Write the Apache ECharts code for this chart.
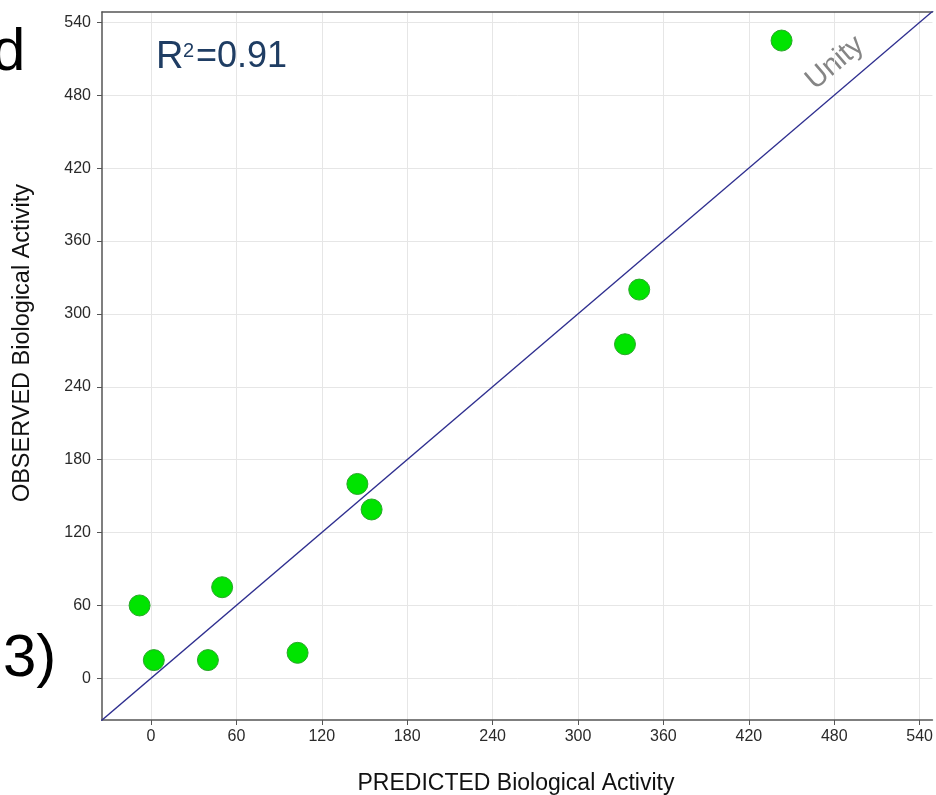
<!DOCTYPE html>
<html><head><meta charset="utf-8">
<script src="https://cdn.jsdelivr.net/npm/echarts@6/dist/echarts.min.js"></script>
<style>html,body{margin:0;padding:0;background:#fff}#c{width:936px;height:795px}</style>
</head><body><div id="c"></div>
<script>
const predicted = [-8, 2, 40, 50, 103, 145, 155, 333, 343, 443];
const observed  = [60, 15, 15, 75, 21, 160, 139, 275, 320, 525];
const tickValues = [0, 60, 120, 180, 240, 300, 360, 420, 480, 540];
const unityLine = [[-40, -40], [600, 600]];
const r2Text = '0.91';

const points = predicted.map((p, i) => [p, observed[i]]);
const chart = echarts.init(document.getElementById('c'), null, {renderer: 'canvas'});
const labelFont = {fontFamily: 'Liberation Sans', fontSize: 16, color: '#2a2a2a'};
function axisCommon() {
  return {
    type: 'value',
    axisLine: {show: true, onZero: false, lineStyle: {color: '#555', width: 1.5}},
    axisTick: {show: true, length: 5, lineStyle: {color: '#555'}, customValues: tickValues},
    axisLabel: Object.assign({customValues: tickValues}, labelFont),
    splitLine: {show: true, lineStyle: {color: '#e6e6e6', width: 1}}
  };
}
const xMin = -34.4, xMax = 549;
const xA = axisCommon(); xA.min = xMin; xA.max = xMax; xA.axisLabel.margin = 9;
const xTop = {type: 'value', position: 'top', min: xMin, max: xMax,
  axisLine: {show: true, onZero: false, lineStyle: {color: '#555', width: 1.5}},
  axisTick: {show: false}, axisLabel: {show: false}, splitLine: {show: false}};
const yA = axisCommon(); yA.min = -34.3; yA.max = 548.5; yA.axisLabel.margin = 11;
const navy = '#1f3d63';
chart.setOption({
  animation: false,
  grid: {left: 102, top: 12, right: 0, bottom: 75},
  xAxis: [xA, xTop],
  yAxis: yA,
  series: [
    {type: 'line', data: unityLine, symbol: 'none', clip: true, silent: true,
     lineStyle: {color: '#2e2e8f', width: 1.3}, z: 2},
    {type: 'scatter', data: points, symbolSize: 21,
     itemStyle: {color: '#00e400', borderColor: '#2aa52a', borderWidth: 1, opacity: 1}, z: 3}
  ],
  graphic: [
    {type: 'text', x: 156, y: 57.5, style: {
      text: 'R', fontSize: 38, fontFamily: 'Liberation Sans', fill: navy,
      align: 'left', verticalAlign: 'middle'}},
    {type: 'text', x: 183, y: 51, style: {
      text: '2', fontSize: 20, fontFamily: 'Liberation Sans', fill: navy,
      align: 'left', verticalAlign: 'middle'}},
    {type: 'text', x: 196, y: 57.5, style: {
      text: '=' + r2Text, fontSize: 36, fontFamily: 'Liberation Sans', fill: navy,
      align: 'left', verticalAlign: 'middle'}},
    {type: 'text', x: 835, y: 63, rotation: 0.705, style: {
      text: 'Unity', fontSize: 29, fontFamily: 'Liberation Sans', fill: '#858585',
      align: 'center', verticalAlign: 'middle'}},
    {type: 'text', x: 516, y: 783.5, style: {
      text: 'PREDICTED Biological Activity', fontSize: 23, fontFamily: 'Liberation Sans', fill: '#111',
      align: 'center', verticalAlign: 'middle'}},
    {type: 'text', x: 23, y: 343, rotation: Math.PI / 2, style: {
      text: 'OBSERVED Biological Activity', fontSize: 23.5, fontFamily: 'Liberation Sans', fill: '#111',
      align: 'center', verticalAlign: 'middle'}},
    {type: 'text', x: -8, y: 53, style: {
      text: 'd', fontSize: 60, fontFamily: 'Liberation Sans', fill: '#000',
      align: 'left', verticalAlign: 'middle'}},
    {type: 'text', x: 3, y: 659, style: {
      text: '3)', fontSize: 60, fontFamily: 'Liberation Sans', fill: '#000',
      align: 'left', verticalAlign: 'middle'}}
  ]
});
</script></body></html>
